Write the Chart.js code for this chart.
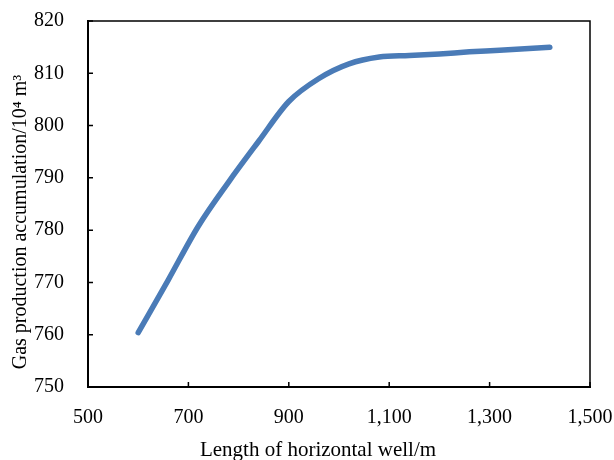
<!DOCTYPE html>
<html>
<head>
<meta charset="utf-8">
<script src="https://cdn.jsdelivr.net/npm/chart.js@4.4.1/dist/chart.umd.min.js"></script>
<style>
  html, body { margin: 0; padding: 0; background: #fff; }
  #wrap { width: 614px; height: 460px; }
</style>
</head>
<body>
<div id="wrap"><canvas id="gasChart" width="614" height="460"></canvas></div>
<script>
// Horizontal well length (m) and cumulative gas production (10^4 m3)
const wellLength = [600, 660, 720, 780, 840, 900, 960, 1020, 1080, 1140, 1200, 1260, 1320, 1420];
const gasProduction = [760.4, 770.5, 780.8, 789.2, 797.0, 804.6, 809.0, 811.8, 813.1, 813.4, 813.7, 814.1, 814.4, 815.0];

// Axis ranges, tick steps and titles
const xRange = [500, 1500];
const xStep = 200;
const yRange = [750, 820];
const yStep = 10;
const xTitle = 'Length of horizontal well/m';
const yTitle = 'Gas production accumulation/10\u2074 m\u00b3';

const LINE_COLOR = '#4a7bb7';
const FONT = "'Liberation Serif', 'Times New Roman', serif";

// Keep Chart.js from adding extra room for the edge labels
const noEdgePadding = scale => {
  scale.paddingTop = 0;
  scale.paddingBottom = 0;
  scale.paddingLeft = 0;
  scale.paddingRight = 0;
};

// Draws the top/right frame, the inward tick marks and the axis titles
const frameAndTicks = {
  id: 'frameAndTicks',
  afterDraw(chart) {
    const { ctx, chartArea: a, scales } = chart;
    ctx.save();
    ctx.strokeStyle = '#000';
    ctx.lineWidth = 1.5;
    ctx.beginPath();
    ctx.moveTo(a.left, a.top);
    ctx.lineTo(a.right, a.top);
    ctx.lineTo(a.right, a.bottom);
    ctx.stroke();

    ctx.beginPath();
    scales.x.ticks.forEach(t => {
      const px = scales.x.getPixelForValue(t.value);
      ctx.moveTo(px, a.bottom);
      ctx.lineTo(px, a.bottom - 5);
    });
    scales.y.ticks.forEach(t => {
      const py = scales.y.getPixelForValue(t.value);
      ctx.moveTo(a.left, py);
      ctx.lineTo(a.left + 5, py);
    });
    ctx.stroke();

    // axis titles (the original centres them on the figure, not the plot)
    ctx.fillStyle = '#000';
    ctx.textAlign = 'center';
    ctx.textBaseline = 'alphabetic';
    ctx.font = `21px ${FONT}`;
    ctx.fillText(xTitle, 318, 456);

    ctx.translate(26, 222);
    ctx.rotate(-Math.PI / 2);
    ctx.font = `20px ${FONT}`;
    ctx.fillText(yTitle, 0, 0);
    ctx.restore();
  }
};

new Chart(document.getElementById('gasChart').getContext('2d'), {
  type: 'line',
  data: {
    datasets: [{
      data: wellLength.map((x, i) => ({ x, y: gasProduction[i] })),
      borderColor: LINE_COLOR,
      borderWidth: 5.5,
      borderCapStyle: 'round',
      borderJoinStyle: 'round',
      pointRadius: 0,
      cubicInterpolationMode: 'monotone',
      fill: false,
    }]
  },
  options: {
    responsive: false,
    animation: false,
    layout: { padding: { left: 0, right: 24, top: 21, bottom: 0 } },
    plugins: {
      legend: { display: false },
      tooltip: { enabled: false },
    },
    scales: {
      x: {
        type: 'linear',
        min: xRange[0],
        max: xRange[1],
        grid: { display: false },
        border: { display: true, color: '#000', width: 2 },
        ticks: {
          stepSize: xStep,
          color: '#000',
          padding: 11,
          maxRotation: 0,
          font: { family: FONT, size: 20 },
          callback: v => v.toLocaleString('en-US'),
        },
        afterFit: scale => { scale.height = 73; noEdgePadding(scale); },
      },
      y: {
        min: yRange[0],
        max: yRange[1],
        grid: { display: false },
        border: { display: true, color: '#000', width: 2 },
        ticks: {
          stepSize: yStep,
          color: '#000',
          padding: 16,
          font: { family: FONT, size: 20 },
        },
        afterFit: scale => { scale.width = 88; noEdgePadding(scale); },
      }
    }
  },
  plugins: [frameAndTicks]
});
</script>
</body>
</html>
